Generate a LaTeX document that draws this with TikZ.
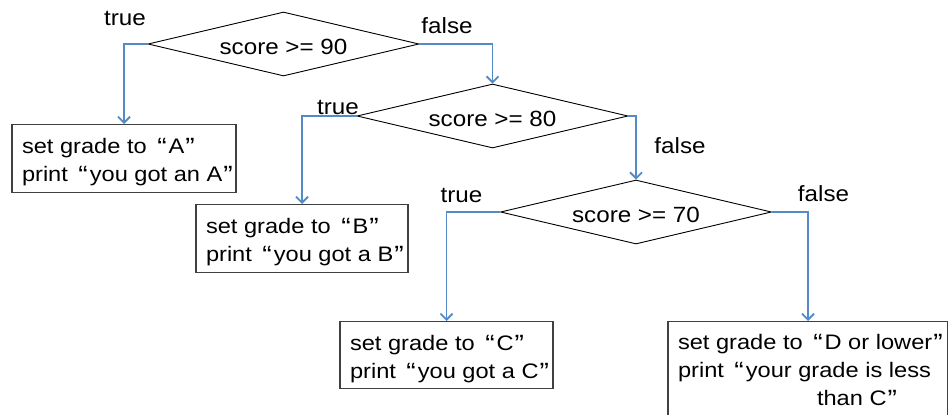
\documentclass[tikz,border=0pt]{standalone}
\usepackage{fontspec}
\setmainfont{Liberation Sans}[FakeStretch=1.1]
\newfontfamily\boxfont{Liberation Sans}[FakeStretch=1.125]
\usetikzlibrary{shapes.geometric,arrows.meta}
\definecolor{connblue}{RGB}{84,138,200}
\newcommand{\oq}{\hspace{10.5pt}\raisebox{-2pt}{\fontsize{25}{28}\selectfont “}\hspace{2pt}}
\newcommand{\cq}{\hspace{1pt}\raisebox{-2pt}{\fontsize{25}{28}\selectfont ”}}
\newcommand{\boxtext}[4]{\parbox[c][#1pt][t]{#2pt}{\raggedright\leftskip=10pt\boxfont\fontsize{21}{28}\selectfont\rule{0pt}{#3pt}#4}}
\begin{document}
\begin{tikzpicture}[x=1pt,y=-1pt,
  dec/.style={diamond, draw=black, line width=0.9pt, minimum width=271pt, minimum height=64pt,
    aspect=4.2, inner sep=0pt, font=\fontsize{22}{26}\selectfont, text height=20pt, text depth=0pt},
  outbox/.style={draw=black!75, line width=1.2pt, inner sep=0pt, anchor=north},
  lbl/.style={inner sep=0pt, anchor=base, font=\fontsize{22}{26}\selectfont},
  conn/.style={draw=connblue, line width=1.8pt, -{Straight Barb[length=6pt,width=12pt]}}]
\useasboundingbox (0,0) rectangle (948,415);
% decisions
\node[dec] (d1) at (283.5,44) {score >= 90};
\node[dec] (d2) at (492.5,116) {score >= 80};
\node[dec] (d3) at (636,212) {score >= 70};
% outcome boxes
\node[outbox] (A) at (124,124) {\boxtext{68}{224}{29}{set grade to\oq A\cq\\print\oq you got an A\cq}};
\node[outbox] (B) at (302,204) {\boxtext{68}{212}{29}{set grade to\oq B\cq\\print\oq you got a B\cq}};
\node[outbox] (C) at (446.5,321) {\boxtext{67}{213}{29}{set grade to\oq C\cq\\print\oq you got a C\cq}};
\node[outbox] (D) at (808,321) {\boxtext{100}{280}{28}{set grade to\oq D or lower\cq\\print\oq your grade is less\\\hspace*{139pt}than C\cq}};
% labels
\node[lbl] (t1) at (125,25) {true};
\node[lbl] (f1) at (447,33) {false};
\node[lbl] (t2) at (338,114) {true};
\node[lbl] (f2) at (680,153) {false};
\node[lbl] (t3) at (461.5,202) {true};
\node[lbl] (f3) at (823.5,201) {false};
% connectors
\draw[conn] (d1.west) -| (A.north);
\draw[conn] (d1.east) -| (d2.north);
\draw[conn] (d2.west) -| (B.north);
\draw[conn] (d2.east) -| (d3.north);
\draw[conn] (d3.west) -| (C.north);
\draw[conn] (d3.east) -| (D.north);
\end{tikzpicture}
\end{document}
